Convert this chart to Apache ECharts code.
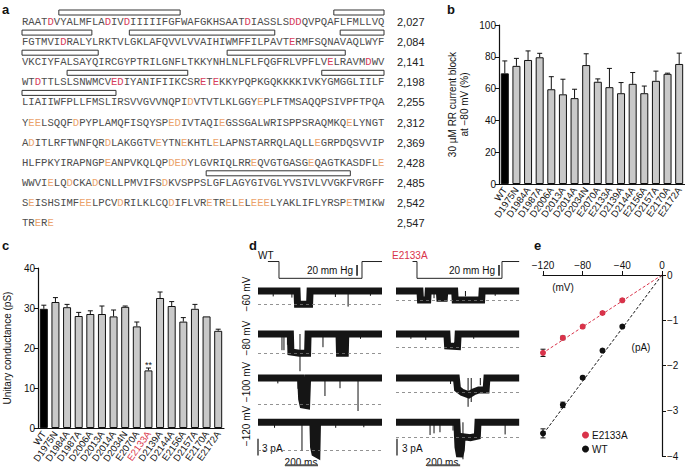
<!DOCTYPE html>
<html>
<head>
<meta charset="utf-8">
<script src="https://cdn.jsdelivr.net/npm/echarts@6/dist/echarts.min.js"></script>
<style>
  html, body { margin: 0; padding: 0; background: #fff; }
  #chart { width: 685px; height: 472px; }
</style>
</head>
<body>
<div id="chart"></div>
<script>
// ---- panel a: sequence (lowercase = acidic residue that is coloured) ----
const seqLines = [
  'RAATdVYALMFLAdIVdIIIIIFGFWAFGKHSAATdIASSLSddQVPQAFLFMLLVQ',
  'FGTMVIdRALYLRKTVLGKLAFQVVLVVAIHIWMFFILPAVTeRMFSQNAVAQLWYF',
  'VKCIYFALSAYQIRCGYPTRILGNFLTKKYNHLNLFLFQGFRLVPFLVeLRAVMdWV',
  'WTdTTLSLSNWMCVedIYANIFIIKCSReTeKKYPQPKGQKKKKIVKYGMGGLIILF',
  'LIAIIWFPLLFMSLIRSVVGVVNQPIdVTVTLKLGGYePLFTMSAQQPSIVPFTPQA',
  'YeeLSQQFdPYPLAMQFISQYSPedIVTAQIeGSSGALWRISPPSRAQMKQeLYNGT',
  'AdITLRFTWNFQRdLAKGGTVeYTNeKHTLeLAPNSTARRQLAQLLeGRPDQSVVIP',
  'HLFPKYIRAPNGPeANPVKQLQPdedYLGVRIQLRReQVGTGASGeQAGTKASDFLe',
  'WWVIeLQdCKAdCNLLPMVIFSdKVSPPSLGFLAGYGIVGLYVSIVLVVGKFVRGFF',
  'SeISHSIMFeeLPCVdRILKLCQdIFLVReTReLeLeeeLYAKLIFLYRSPeTMIKW',
  'TReRe'
];
const seqEnds = ['2,027', '2,084', '2,141', '2,198', '2,255', '2,312', '2,369', '2,428', '2,485', '2,542', '2,547'];
// [line, first residue, last residue] of the boxed segments
const seqBoxes = [
  [0, 5.8, 24.9], [0, 49.1, 57],
  [1, 0, 11], [1, 16.9, 39.8], [1, 50.1, 57],
  [2, 0, 12], [2, 32.3, 50.9],
  [3, 7.1, 26.1], [3, 47.2, 57],
  [4, 0, 14.8],
  [8, 29, 51.7]
];

// ---- panels b and c ----
const mutants = ['WT', 'D1975N', 'D1984A', 'D1987A', 'D2006A', 'D2013A', 'D2014A', 'D2034N',
  'E2070A', 'E2133A', 'D2139A', 'D2144A', 'E2156A', 'D2157A', 'E2170A', 'E2172A'];
const blockMean = [69.6, 74.3, 78, 79.7, 59.6, 56.4, 54, 74.8, 64.3, 60.9, 57.1, 63, 57.1, 64.9, 69.3, 75.5];
const blockSem = [7.8, 4.7, 5.7, 2.5, 7.9, 9.5, 5.6, 7.1, 1.8, 11.8, 6.7, 7.1, 4.5, 6.1, 0.4, 6.8];
const condMean = [29.8, 31.5, 30.2, 28, 28.5, 28.5, 27.9, 30.3, 25.4, 14.4, 32.5, 30.5, 26.6, 29.8, 27.9, 24.3];
const condSem = [0.9, 1.1, 0.7, 0.9, 0.8, 2, 1.6, 0.2, 1.1, 0.6, 1.5, 1.1, 1, 1.1, 0, 0.4];

// ---- panel e: I-V ----
const voltages = [-120, -100, -80, -60, -40];
const ivWT = [-3.5, -2.87, -2.27, -1.67, -1.14];
const ivWTSem = [0.1, 0.06, 0.03, 0.03, 0.03];
const ivMut = [-1.72, -1.39, -1.14, -0.84, -0.56];
const ivMutSem = [0.08, 0.04, 0.03, 0.03, 0.03];
const fitWT = [[0, 0], [-122, -3.58]];
const fitMut = [[0, 0], [-122, -1.75]];

// ---- panel d: single-channel traces, time (ms) vs current (pA) ----
const wtTraces = [
  [[0, 0], [236, 0], [239, -2.2], [312, -2.2], [315, 0], [750, 0]],
  [[0, 0], [196, 0], [199, -3.0], [250, -3.2], [300, -3.2], [303, 0], [490, 0], [493, -3.2], [528, -3.2], [531, 0], [750, 0]],
  [[0, 0], [258, 0], [264, -3.5], [272, -4.5], [294, -4.6], [300, 0], [750, 0]],
  [[0, 0], [332, 0], [336, -4.5], [344, -5.6], [356, -5.8], [360, 0], [750, 0]]
];
const wtSpikes = [
  [[92, -0.9], [205, -1.1], [468, -1.0], [545, -2.6], [680, -0.8]],
  [[145, -2.7], [157, -2.7], [178, -1.8], [254, -6.2], [393, -2.2], [620, -0.8]],
  [[120, -0.9], [242, -1.8], [405, -3.0], [496, -1.7], [605, -5.5]],
  [[100, -1.0], [266, -5.2], [322, -2.8], [470, -1.0], [640, -0.9]]
];
const wtOpen = [-2.2, -3.2, -4.3, -5.0];
const mutTraces = [
  [[0, 0], [145, 0], [148, -1.5], [192, -1.5], [195, 0], [262, 0], [265, -1.2], [292, -1.2], [295, 0], [355, 0], [358, -1.5], [518, -1.5], [521, 0], [745, 0]],
  [[0, 0], [308, 0], [312, -2.0], [372, -2.1], [376, 0], [745, 0]],
  [[0, 0], [365, 0], [372, -1.8], [400, -2.4], [440, -2.8], [470, -2.3], [500, -2.0], [545, -2.0], [550, 0], [745, 0]],
  [[0, 0], [368, 0], [375, -4.5], [385, -6.2], [395, -5.0], [400, -2.6], [450, -2.8], [492, -2.5], [496, 0], [745, 0]]
];
const mutSpikes = [
  [[230, -1.2], [420, -0.9], [600, -0.8]],
  [[90, -0.8], [180, -1.0], [470, -0.8]],
  [[330, -1.0], [436, -4.8], [455, -4.0], [510, -1.2]],
  [[206, -2.3], [230, -2.0], [266, -1.8], [345, -1.5], [405, -6.7], [660, -2.2]]
];
const mutOpen = [-1.5, -2.2, -2.3, -2.7];
const pressureWT = [[60, 0], [127, 0], [127, -20], [629, -20], [629, 0], [750, 0]];
const pressureMut = [[100, 0], [127, 0], [127, -20], [641, -20], [641, 0], [745, 0]];
const rowLabels = ['\u221260 mV', '\u221280 mV', '\u2212100 mV', '\u2212120 mV'];

const RED = '#d9334a';
const FONT = 'Liberation Sans';
const chart = echarts.init(document.getElementById('chart'), null, { renderer: 'svg' });

function richSeq(line, i) {
  const tag = i < 4 ? 'r' : 'o';
  return line.replace(/[a-z]+/g, (m) => '{' + tag + '|' + m.toUpperCase() + '}');
}

function errRender(both) {
  return function (params, api) {
    const s = api.value(2);
    if (!(s > 0)) return null;
    const x = api.value(0), m = api.value(1);
    const top = api.coord([x, m + s]);
    const bot = api.coord([x, both ? m - s : m]);
    const w = 5;
    const st = { stroke: '#111', lineWidth: 1 };
    const kids = [
      { type: 'line', shape: { x1: bot[0], y1: bot[1], x2: top[0], y2: top[1] }, style: st },
      { type: 'line', shape: { x1: top[0] - w / 2, y1: top[1], x2: top[0] + w / 2, y2: top[1] }, style: st }
    ];
    if (both) kids.push({ type: 'line', shape: { x1: bot[0] - w / 2, y1: bot[1], x2: bot[0] + w / 2, y2: bot[1] }, style: st });
    return { type: 'group', children: kids };
  };
}

function spikeRender(params, api) {
  const a = api.coord([api.value(0), 0]);
  const b = api.coord([api.value(0), api.value(1)]);
  return { type: 'line', shape: { x1: a[0], y1: a[1], x2: b[0], y2: b[1] }, style: { stroke: '#111', lineWidth: 1 } };
}

const grids = [
  { left: 22, top: 22, width: 362, height: 201 },   // 0 sequence
  { left: 499, top: 25, width: 186, height: 159 },  // 1 panel b
  { left: 37, top: 268, width: 187, height: 160 },  // 2 panel c
  { left: 543, top: 275, width: 119, height: 181 }  // 3 panel e
];
const xAxes = [
  { gridIndex: 0, type: 'value', min: 0, max: 57, show: false },
  null, null,
  {
    gridIndex: 3, type: 'value', min: -120, max: 0, interval: 40, position: 'top',
    axisLine: { onZero: false, lineStyle: { color: '#111', width: 1.2 } },
    axisTick: { length: 4, lineStyle: { color: '#111' } },
    axisLabel: { fontSize: 10, color: '#111', fontFamily: FONT, margin: 5, formatter: (v) => String(v).replace('-', '\u2212') },
    splitLine: { show: false }
  }
];
const yAxes = [
  { gridIndex: 0, type: 'value', min: 0, max: 10, inverse: true, show: false },
  null, null,
  {
    gridIndex: 3, type: 'value', min: -4, max: 0, interval: 1, position: 'right',
    axisLine: { onZero: false, lineStyle: { color: '#111', width: 1.2 } },
    axisTick: { length: 4, lineStyle: { color: '#111' } },
    axisLabel: { fontSize: 10, color: '#111', fontFamily: FONT, margin: 5, formatter: (v) => String(v).replace('-', '\u2212') },
    splitLine: { show: false }
  }
];

function barAxes(gi, yMax, yInt, name, nameGap, redLabel) {
  xAxes[gi] = {
    gridIndex: gi, type: 'category', data: mutants,
    axisLine: { lineStyle: { color: '#111', width: 1.2 } },
    axisTick: { show: false },
    axisLabel: {
      interval: 0, rotate: 55, fontSize: 9.5, color: '#111', fontFamily: FONT, margin: 4,
      formatter: (v) => (redLabel && v === 'E2133A' ? '{red|' + v + '}' : v),
      rich: { red: { color: RED, fontSize: 9.5, fontFamily: FONT } }
    }
  };
  yAxes[gi] = {
    gridIndex: gi, type: 'value', min: 0, max: yMax, interval: yInt,
    name: name, nameLocation: 'middle', nameGap: nameGap, nameRotate: 90,
    nameTextStyle: { fontSize: 10, color: '#111', fontFamily: FONT, lineHeight: 12 },
    axisLine: { show: true, lineStyle: { color: '#111', width: 1.2 } },
    axisTick: { show: true, length: 4, lineStyle: { color: '#111' } },
    axisLabel: { fontSize: 10, color: '#111', fontFamily: FONT, margin: 3 },
    splitLine: { show: false }
  };
}
barAxes(1, 100, 20, '30 \u00b5M RR current block\nat \u221280 mV (%)', 29, false);
barAxes(2, 40, 10, 'Unitary conductance (pS)', 25, true);

const series = [];

// sequence text
series.push({
  type: 'custom', xAxisIndex: 0, yAxisIndex: 0, silent: true,
  data: seqLines.map((s, i) => [0, i]),
  renderItem: function (params, api) {
    const i = params.dataIndex;
    const p = api.coord([0, i]);
    const e = api.coord([57, i]);
    return {
      type: 'group', children: [
        {
          type: 'text', x: p[0], y: p[1],
          style: {
            text: richSeq(seqLines[i], i), fill: '#4d4d4d', fontSize: 10.6, fontFamily: 'Liberation Mono',
            verticalAlign: 'middle', align: 'left',
            rich: {
              r: { fill: '#d6405c', color: '#d6405c', fontSize: 10.6, fontFamily: 'Liberation Mono' },
              o: { fill: '#eba36c', color: '#eba36c', fontSize: 10.6, fontFamily: 'Liberation Mono' }
            }
          }
        },
        {
          type: 'text', x: e[0] + 13, y: p[1],
          style: { text: seqEnds[i], fill: '#222', fontSize: 11, fontFamily: FONT, verticalAlign: 'middle', align: 'left' }
        }
      ]
    };
  }
});
// sequence boxes
series.push({
  type: 'custom', xAxisIndex: 0, yAxisIndex: 0, silent: true,
  data: seqBoxes,
  renderItem: function (params, api) {
    const line = api.value(0);
    const a = api.coord([api.value(1), line]);
    const b = api.coord([api.value(2), line]);
    return {
      type: 'rect', shape: { x: a[0], y: a[1] - 12, width: b[0] - a[0], height: 5 },
      style: { fill: '#fff', stroke: '#333', lineWidth: 1 }
    };
  }
});

// bars b and c
function barSeries(gi, mean, sem, marks) {
  series.push({
    type: 'bar', xAxisIndex: gi, yAxisIndex: gi, barWidth: 8, silent: true,
    data: mean.map((v, i) => ({
      value: v,
      itemStyle: { color: i === 0 ? '#000' : '#c9c9c9', borderColor: '#111', borderWidth: 1 },
      label: marks && marks[i] ? { show: true, position: 'top', distance: 1, formatter: marks[i], fontSize: 9, color: '#111', fontFamily: FONT } : { show: false }
    }))
  });
  series.push({
    type: 'custom', xAxisIndex: gi, yAxisIndex: gi, silent: true, z: 3,
    data: mean.map((v, i) => [i, v, sem[i]]),
    renderItem: errRender(false)
  });
}
barSeries(1, blockMean, blockSem, null);
barSeries(2, condMean, condSem, mutants.map((m) => (m === 'E2133A' ? '**' : '')));

// panel e
series.push(
  { type: 'line', xAxisIndex: 3, yAxisIndex: 3, data: fitMut, symbol: 'none', silent: true, lineStyle: { color: RED, width: 1, type: [3, 2] } },
  { type: 'line', xAxisIndex: 3, yAxisIndex: 3, data: fitWT, symbol: 'none', silent: true, lineStyle: { color: '#111', width: 1, type: [3, 2] } },
  { type: 'custom', xAxisIndex: 3, yAxisIndex: 3, silent: true, data: voltages.map((v, i) => [v, ivMut[i], ivMutSem[i]]), renderItem: errRender(true) },
  { type: 'custom', xAxisIndex: 3, yAxisIndex: 3, silent: true, data: voltages.map((v, i) => [v, ivWT[i], ivWTSem[i]]), renderItem: errRender(true) },
  { name: 'E2133A', type: 'scatter', xAxisIndex: 3, yAxisIndex: 3, symbolSize: 6, itemStyle: { color: RED, opacity: 1 }, data: voltages.map((v, i) => [v, ivMut[i]]) },
  { name: 'WT', type: 'scatter', xAxisIndex: 3, yAxisIndex: 3, symbolSize: 6, itemStyle: { color: '#111', opacity: 1 }, data: voltages.map((v, i) => [v, ivWT[i]]) }
);

// panel d traces
const rowBase = [291, 334, 378, 423];
const colLeft = [258, 396];
[[wtTraces, wtSpikes, wtOpen], [mutTraces, mutSpikes, mutOpen]].forEach(([tr, sp, op], c) => {
  tr.forEach((trace, r) => {
    const gi = grids.length;
    grids.push({ left: colLeft[c], top: rowBase[r] - 9, width: 124, height: 63 });
    xAxes[gi] = { gridIndex: gi, type: 'value', min: 0, max: 750, show: false };
    yAxes[gi] = { gridIndex: gi, type: 'value', min: -9, max: 1.5, show: false };
    series.push({
      type: 'line', xAxisIndex: gi, yAxisIndex: gi, data: trace, symbol: 'none', silent: true,
      lineStyle: { color: '#151515', width: 7, join: 'miter', cap: 'butt' },
      markLine: {
        silent: true, symbol: ['none', 'none'], label: { show: false },
        lineStyle: { color: '#777', width: 0.8, type: [3, 3] },
        data: [{ yAxis: op[r] }]
      }
    });
    series.push({ type: 'custom', xAxisIndex: gi, yAxisIndex: gi, silent: true, data: sp[r], renderItem: spikeRender });
    if (r === 3) {
      const t0 = c === 0 ? 0 : 6;
      const ms = c === 0 ? [163, 363] : [188, 388];
      series.push(
        { type: 'line', xAxisIndex: gi, yAxisIndex: gi, symbol: 'none', silent: true, data: [[t0, -3], [t0, -6]], lineStyle: { color: '#111', width: 1.2 } },
        { type: 'line', xAxisIndex: gi, yAxisIndex: gi, symbol: 'none', silent: true, data: [[ms[0], -7.8], [ms[1], -7.8]], lineStyle: { color: '#555', width: 2 } }
      );
    }
  });
});
[pressureWT, pressureMut].forEach((pr, c) => {
  const gi = grids.length;
  grids.push({ left: colLeft[c], top: 259, width: 124, height: 21 });
  xAxes[gi] = { gridIndex: gi, type: 'value', min: 0, max: 750, show: false };
  yAxes[gi] = { gridIndex: gi, type: 'value', min: -22, max: 3, show: false };
  const tb = c === 0 ? 599 : 623;
  series.push(
    { type: 'line', xAxisIndex: gi, yAxisIndex: gi, data: pr, symbol: 'none', silent: true, lineStyle: { color: '#222', width: 1 } },
    { type: 'line', xAxisIndex: gi, yAxisIndex: gi, data: [[tb, -4], [tb, -17]], symbol: 'none', silent: true, lineStyle: { color: '#111', width: 1.5 } }
  );
});

function txt(text, x, y, opt) {
  return {
    type: 'text', x: x, y: y, rotation: (opt && opt.rot) || 0, silent: true,
    style: Object.assign({ text: text, fill: '#111', fontSize: 10, fontFamily: FONT, align: 'left', verticalAlign: 'middle' }, opt && opt.style)
  };
}
const bold = { fontSize: 13, fontWeight: 'bold' };
const graphic = [
  txt('a', 2, 9, { style: bold }),
  txt('b', 447, 9, { style: bold }),
  txt('c', 2, 245, { style: bold }),
  txt('d', 249, 245, { style: bold }),
  txt('e', 534, 245, { style: bold }),
  txt('WT', 258, 255),
  txt('E2133A', 392, 255, { style: { fill: RED } }),
  txt('20 mm Hg', 353, 270, { style: { align: 'right' } }),
  txt('20 mm Hg', 495, 270, { style: { align: 'right' } }),
  txt('3 pA', 262, 448),
  txt('3 pA', 402, 448),
  txt('200 ms', 301, 462, { style: { align: 'center' } }),
  txt('200 ms', 442, 462, { style: { align: 'center' } }),
  txt('(mV)', 563, 287, { style: { align: 'center' } }),
  txt('(pA)', 641, 347, { style: { align: 'center' } })
].concat(rowLabels.map((l, r) => txt(l, 246, [294, 338, 382, 426][r], { rot: Math.PI / 2, style: { align: 'center' } })));

chart.setOption({
  animation: false,
  backgroundColor: '#fff',
  textStyle: { fontFamily: FONT },
  grid: grids,
  xAxis: xAxes,
  yAxis: yAxes,
  legend: {
    data: ['E2133A', 'WT'], orient: 'vertical', left: 577, top: 425, icon: 'circle',
    itemWidth: 7, itemHeight: 7, itemGap: 4, selectedMode: false,
    textStyle: { fontSize: 10, color: '#111', fontFamily: FONT, padding: [0, 0, 0, -2] }
  },
  graphic: graphic,
  series: series
});
</script>
</body>
</html>
